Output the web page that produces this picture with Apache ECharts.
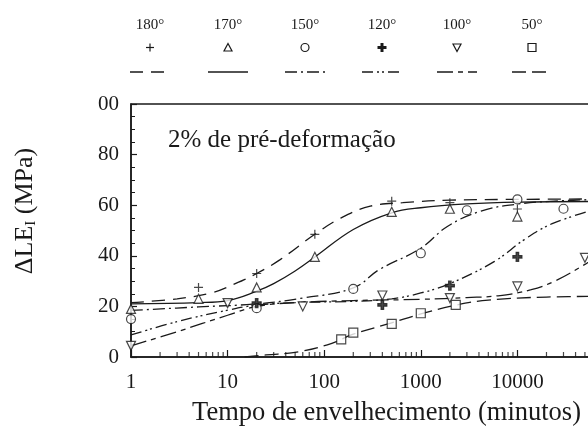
<!DOCTYPE html>
<html>
<head>
<meta charset="utf-8">
<script src="https://cdn.jsdelivr.net/npm/echarts@6/dist/echarts.min.js"></script>
<style>
  html, body { margin: 0; padding: 0; background: #fff; }
  #chart { width: 588px; height: 434px; }
</style>
</head>
<body>
<div id="chart"></div>
<script>
// legend / series names
const tempLabels = ["180°", "170°", "150°", "120°", "100°", "50°"];

// measured points (tempo in minutes, ΔLE in MPa)
const t180 = [5, 20, 80, 500, 2000, 10000];
const v180 = [27.5, 33, 48.5, 61.6, 61, 58.5];
const t170 = [1, 5, 20, 80, 500, 2000, 10000];
const v170 = [19, 23, 27.5, 39.6, 57.4, 58.6, 55.5];
const t150 = [1, 20, 200, 1000, 3000, 10000, 30000];
const v150 = [15, 19.3, 26.9, 41, 58, 62.3, 58.6];
const t120 = [20, 400, 2000, 10000];
const v120 = [21.3, 20.6, 28.2, 39.6];
const t100 = [1, 10, 60, 400, 2000, 10000, 50000];
const v100 = [4.4, 21.3, 20, 24.3, 23.3, 27.9, 39.2];
const t50 = [150, 200, 500, 1000, 2300];
const v50 = [7, 9.6, 13.1, 17.3, 20.6];

// fitted curves
const ct180 = [1, 3, 7, 12, 20, 35, 80, 150, 300, 650, 2000, 10000, 100000];
const cv180 = [21.5, 23, 25.5, 29, 33, 38.5, 48.5, 55, 59.6, 61, 62, 62.3, 62.5];
const ct170 = [1, 5, 10, 20, 30, 50, 80, 200, 500, 1000, 3000, 10000, 100000];
const cv170 = [21, 21.5, 22.3, 26, 29, 34, 39.5, 50.4, 57, 59, 60.5, 61.2, 61.5];
const ct150 = [1, 5, 20, 60, 200, 370, 1000, 1900, 4200, 9400, 24000, 100000];
const cv150 = [18.4, 19.8, 21, 23.3, 27.3, 34.5, 43, 51.7, 57.7, 60.3, 61.6, 62.5];
const ct120 = [1, 3, 10, 20, 50, 200, 500, 1000, 2000, 5800, 11800, 24000, 100000];
const cv120 = [8.7, 14, 18.5, 20.5, 21.5, 22, 23, 25.3, 29, 37.8, 46.4, 53, 60.5];
const ct100 = [1, 3, 10, 20, 50, 200, 1000, 3000, 6300, 13900, 24000, 46000, 100000];
const cv100 = [4.4, 10, 16.5, 20, 21.5, 22.3, 22.8, 23.5, 24.2, 26.6, 29.9, 35.8, 44];
const ct50 = [15, 25, 55, 120, 200, 500, 1000, 2300, 5000, 20000, 100000];
const cv50 = [0, 0.8, 2.1, 5.4, 9, 13.5, 17, 20.5, 22.5, 23.7, 24];

// log minor ticks on the time axis (2..9 in each decade)
const minorSteps = [2, 3, 4, 5, 6, 7, 8, 9];
const decades = [1, 10, 100, 1000, 10000];
const minorTicks = [];
decades.forEach((d) => minorSteps.forEach((s) => minorTicks.push([d * s, 0])));

const ink = "#1a1a1a";
const serif = '"Liberation Serif", "DejaVu Serif", serif';

const plusThin = "path://M5,0L5,10M0,5L10,5";
const plusBold = "path://M3.6,0H6.4V3.6H10V6.4H6.4V10H3.6V6.4H0V3.6H3.6Z";

// one entry per temperature: points, curve, marker, dash pattern
const groups = [
  { name: tempLabels[0], t: t180, v: v180, ct: ct180, cv: cv180, symbol: plusThin, fill: "none", rot: 0, dash: [13, 8] },
  { name: tempLabels[1], t: t170, v: v170, ct: ct170, cv: cv170, symbol: "triangle", fill: "#fff", rot: 0, dash: "solid" },
  { name: tempLabels[2], t: t150, v: v150, ct: ct150, cv: cv150, symbol: "circle", fill: "#fff", rot: 0, dash: [12, 4, 2, 4] },
  { name: tempLabels[3], t: t120, v: v120, ct: ct120, cv: cv120, symbol: plusBold, fill: ink, rot: 0, dash: [11, 4, 2, 3, 2, 4] },
  { name: tempLabels[4], t: t100, v: v100, ct: ct100, cv: cv100, symbol: "triangle", fill: "#fff", rot: 180, dash: [16, 5, 5, 5] },
  { name: tempLabels[5], t: t50, v: v50, ct: ct50, cv: cv50, symbol: "rect", fill: "#fff", rot: 0, dash: [14, 6] }
];

const zip = (a, b) => a.map((x, i) => [x, b[i]]);

const series = [];
groups.forEach((g) => {
  series.push({
    name: g.name + " curva",
    type: "line",
    data: zip(g.ct, g.cv),
    smooth: 0.4,
    showSymbol: false,
    silent: true,
    lineStyle: { color: ink, width: 1.3, type: g.dash },
    z: 2
  });
});
groups.forEach((g) => {
  series.push({
    name: g.name,
    type: "scatter",
    data: zip(g.t, g.v),
    symbol: g.symbol,
    symbolSize: 9,
    symbolRotate: g.rot,
    itemStyle: { color: g.fill, borderColor: ink, borderWidth: 1.2 },
    z: 3
  });
});
series.push({
  name: "minor ticks",
  type: "scatter",
  data: minorTicks,
  symbol: "rect",
  symbolSize: [1.2, 5],
  symbolOffset: [0, -2.5],
  silent: true,
  itemStyle: { color: ink },
  z: 4
});

// legend drawn above the frame: label, marker, line sample
const legendX = [150, 228, 305, 382, 457, 532];
const legendItems = [];
const markStroke = { fill: "#fff", stroke: ink, lineWidth: 1.2 };
groups.forEach((g, i) => {
  const cx = legendX[i];
  const cy = 47.5;
  legendItems.push({
    type: "text", x: cx, y: 25,
    style: { text: g.name, font: "15px " + serif, fill: ink, align: "center", verticalAlign: "middle" }
  });
  if (i === 0) {
    legendItems.push({ type: "line", shape: { x1: cx, y1: cy - 4, x2: cx, y2: cy + 4 }, style: { stroke: ink, lineWidth: 1.2 } });
    legendItems.push({ type: "line", shape: { x1: cx - 4, y1: cy, x2: cx + 4, y2: cy }, style: { stroke: ink, lineWidth: 1.2 } });
  } else if (i === 1) {
    legendItems.push({ type: "polygon", shape: { points: [[cx, cy - 4], [cx + 4, cy + 3.5], [cx - 4, cy + 3.5]] }, style: markStroke });
  } else if (i === 2) {
    legendItems.push({ type: "circle", shape: { cx: cx, cy: cy, r: 4 }, style: markStroke });
  } else if (i === 3) {
    legendItems.push({ type: "rect", shape: { x: cx - 1.5, y: cy - 4.5, width: 3, height: 9 }, style: { fill: ink } });
    legendItems.push({ type: "rect", shape: { x: cx - 4.5, y: cy - 1.5, width: 9, height: 3 }, style: { fill: ink } });
  } else if (i === 4) {
    legendItems.push({ type: "polygon", shape: { points: [[cx - 4, cy - 3.5], [cx + 4, cy - 3.5], [cx, cy + 4]] }, style: markStroke });
  } else {
    legendItems.push({ type: "rect", shape: { x: cx - 4, y: cy - 4, width: 8, height: 8 }, style: markStroke });
  }
  legendItems.push({
    type: "line",
    shape: { x1: cx - 20, y1: 72, x2: cx + 20, y2: 72 },
    style: { stroke: ink, lineWidth: 1.6, lineDash: g.dash === "solid" ? null : g.dash }
  });
});

const chart = echarts.init(document.getElementById("chart"));

chart.setOption({
  animation: false,
  backgroundColor: "#fff",
  grid: {
    left: 131, top: 104, width: 483, height: 253,
    containLabel: false,
    outerBoundsMode: "none",
    show: true, borderColor: ink, borderWidth: 1.5, backgroundColor: "transparent"
  },
  xAxis: {
    type: "log",
    logBase: 10,
    min: 1,
    max: 100000,
    axisLine: { lineStyle: { color: ink, width: 1.5 } },
    axisTick: { inside: true, length: 7, lineStyle: { color: ink, width: 1.2 } },
    splitLine: { show: false },
    axisLabel: {
      color: ink, fontFamily: serif, fontSize: 21, margin: 15,
      formatter: (v) => (v >= 100000 ? "" : String(v))
    }
  },
  yAxis: {
    type: "value",
    min: 0,
    max: 100,
    interval: 20,
    axisLine: { show: true, lineStyle: { color: ink, width: 1.5 } },
    axisTick: { inside: true, length: 6, lineStyle: { color: ink, width: 1.2 } },
    minorTick: { show: true, splitNumber: 4, length: 4, lineStyle: { color: ink } },
    splitLine: { show: false },
    axisLabel: {
      color: ink, fontFamily: serif, fontSize: 21, margin: 12,
      formatter: (v) => (v === 100 ? "00" : String(v))
    }
  },
  graphic: [
    {
      type: "text", x: 168, y: 140,
      style: { text: "2% de pré-deformação", font: "25px " + serif, fill: ink, verticalAlign: "middle" }
    },
    {
      type: "text", x: 581, y: 413,
      style: { text: "Tempo de envelhecimento (minutos)", font: "26.5px " + serif, fill: ink, align: "right", verticalAlign: "middle" }
    },
    {
      type: "text", x: 25, y: 211, rotation: Math.PI / 2,
      style: {
        text: "{a|ΔLE}{s|I}{a| (MPa)}",
        align: "center", verticalAlign: "middle",
        rich: {
          a: { font: "26px " + serif, fill: ink, color: ink },
          s: { font: "15px " + serif, fill: ink, color: ink, padding: [12, 0, 0, 0] }
        }
      }
    }
  ].concat(legendItems),
  series: series
});
</script>
</body>
</html>
